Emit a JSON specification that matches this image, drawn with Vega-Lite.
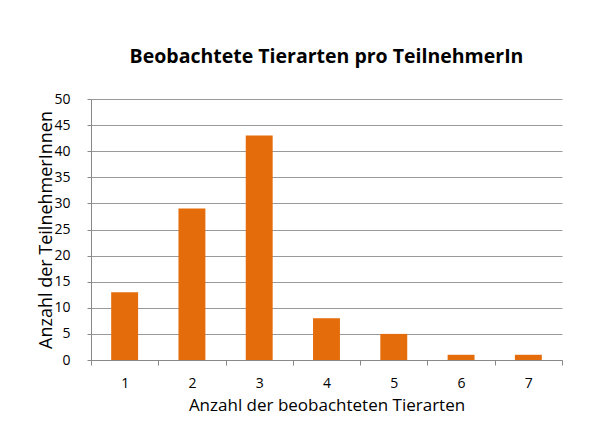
{
  "$schema": "https://vega.github.io/schema/vega-lite/v6.json",
  "width": 471,
  "height": 261,
  "autosize": {"type": "none"},
  "padding": {"left": 91, "top": 99, "right": 52, "bottom": 68},
  "background": "white",
  "title": {
    "text": "Beobachtete Tierarten pro TeilnehmerIn",
    "font": "Open Sans",
    "fontSize": 19.5,
    "fontWeight": "bold",
    "color": "#000000",
    "anchor": "middle",
    "offset": 25
  },
  "data": {
    "values": [
      {"arten": "1", "anzahl": 13},
      {"arten": "2", "anzahl": 29},
      {"arten": "3", "anzahl": 43},
      {"arten": "4", "anzahl": 8},
      {"arten": "5", "anzahl": 5},
      {"arten": "6", "anzahl": 1},
      {"arten": "7", "anzahl": 1}
    ]
  },
  "mark": {"type": "bar", "color": "#E46C0A", "width": {"band": 0.4}},
  "encoding": {
    "x": {
      "field": "arten",
      "type": "ordinal",
      "title": "Anzahl der beobachteten Tierarten",
      "scale": {"paddingInner": 0, "paddingOuter": 0},
      "axis": {
        "labelAngle": 0,
        "tickBand": "extent",
        "domainColor": "#888888",
        "tickColor": "#888888",
        "tickSize": 5,
        "labelPadding": 11,
        "labelFont": "Open Sans",
        "labelFontSize": 14,
        "labelColor": "#000000",
        "titleFont": "Open Sans",
        "titleFontSize": 17,
        "titleFontWeight": "normal",
        "titleColor": "#000000",
        "titlePadding": 7,
        "grid": false
      }
    },
    "y": {
      "field": "anzahl",
      "type": "quantitative",
      "title": "Anzahl der TeilnehmerInnen",
      "scale": {"domain": [0, 50], "nice": false},
      "axis": {
        "values": [0, 5, 10, 15, 20, 25, 30, 35, 40, 45, 50],
        "domainColor": "#888888",
        "tickColor": "#888888",
        "tickSize": 4,
        "gridColor": "#999999",
        "gridWidth": 1,
        "labelPadding": 17,
        "labelFont": "Open Sans",
        "labelFontSize": 14,
        "labelColor": "#000000",
        "titleFont": "Open Sans",
        "titleFontSize": 18,
        "titleFontWeight": "normal",
        "titleColor": "#000000",
        "titlePadding": -2
      }
    }
  },
  "config": {
    "view": {"stroke": null}
  }
}
